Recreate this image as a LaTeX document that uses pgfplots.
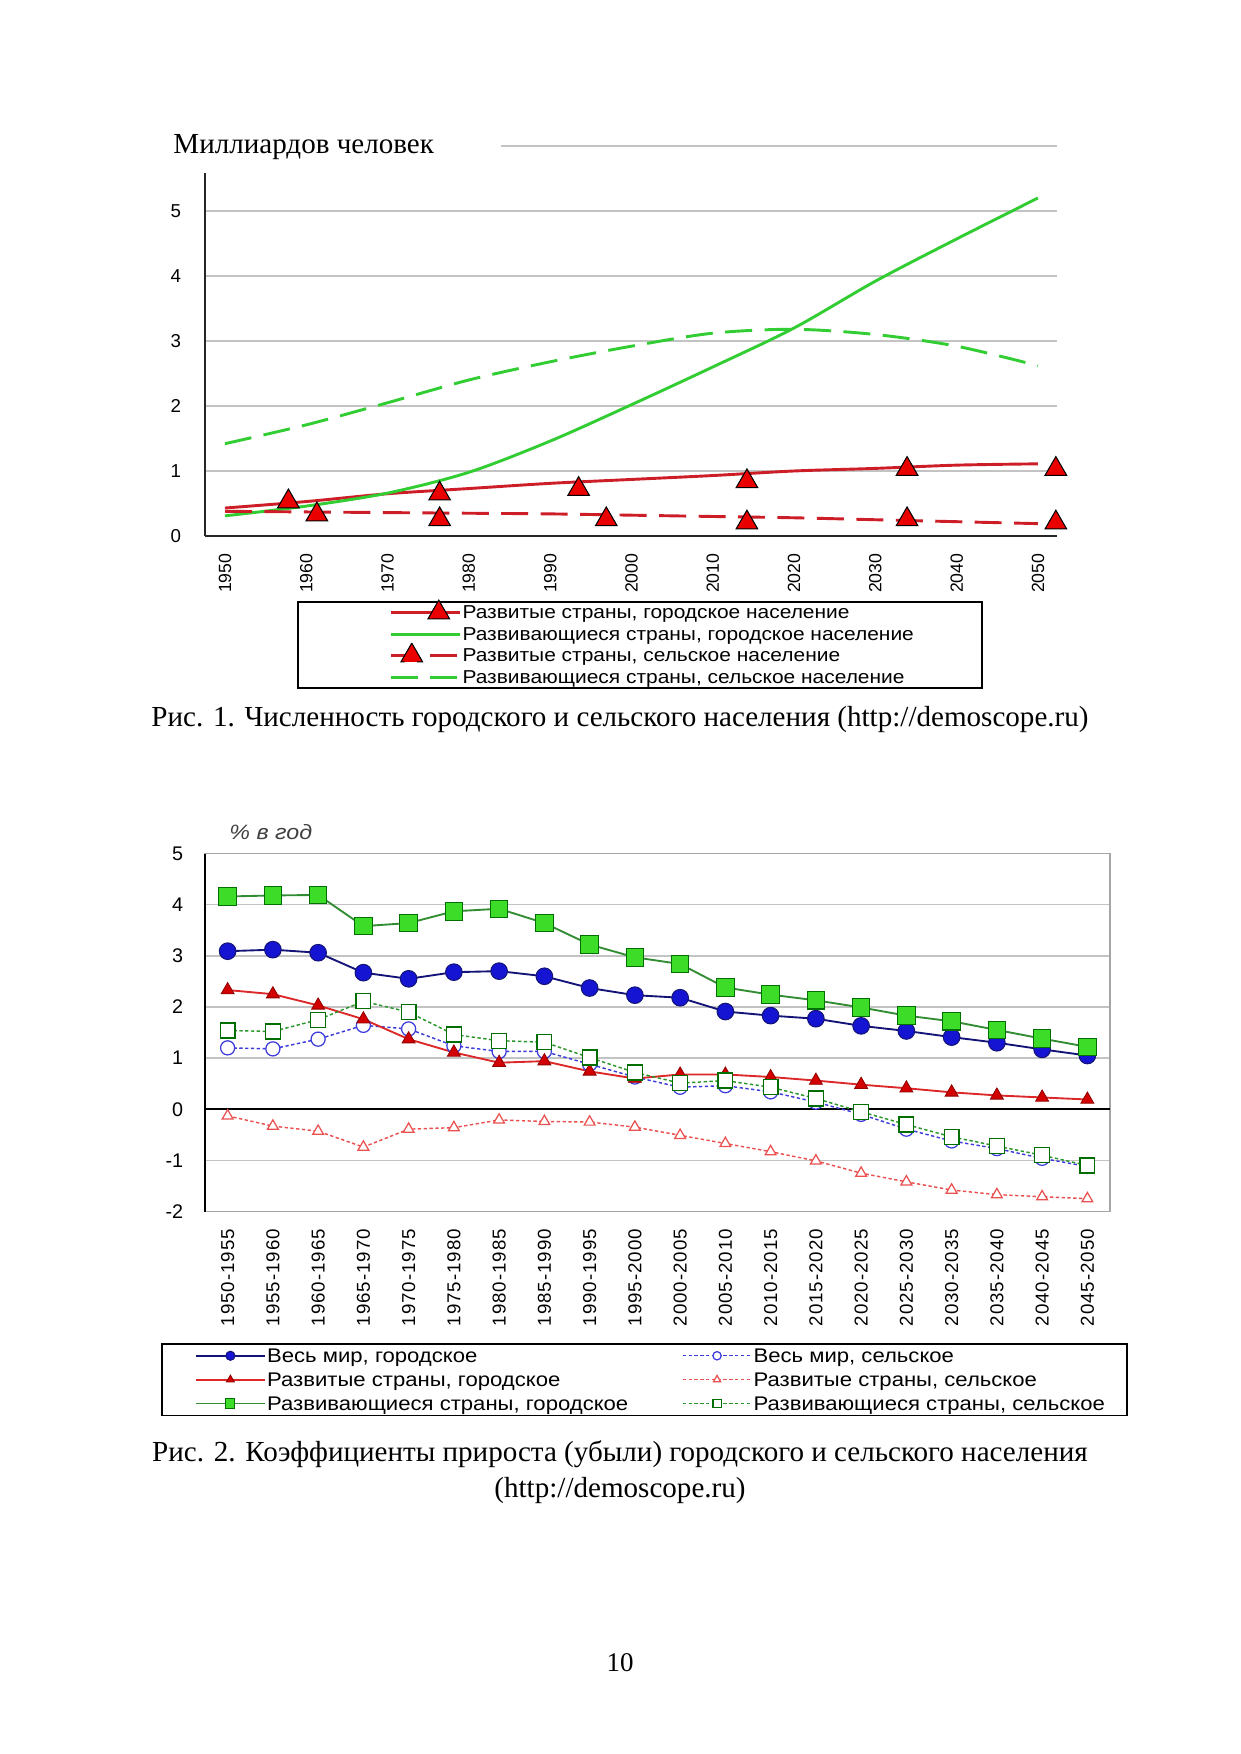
\documentclass[border=0pt]{standalone}
\usepackage{fontspec}
\setmainfont{Liberation Serif}
\setsansfont{Liberation Sans}
\newfontfamily\legfont[FakeStretch=1.12]{Liberation Sans}
\newfontfamily\tickfont[LetterSpace=5]{Liberation Sans}
\usepackage{pgfplots}
\usepackage{pgfplotstable}
\pgfplotsset{compat=1.18}

\definecolor{gridgray}{RGB}{195,195,195}
\definecolor{urbred}{RGB}{205,30,40}
\definecolor{urbgreen}{RGB}{50,205,50}
\definecolor{trired}{RGB}{235,0,0}
\definecolor{navyline}{RGB}{20,20,120}
\definecolor{bluemk}{RGB}{20,20,210}
\definecolor{redmk}{RGB}{210,0,0}
\definecolor{redln}{RGB}{220,40,40}
\definecolor{greenmk}{RGB}{60,220,40}
\definecolor{greenln}{RGB}{50,140,50}
\definecolor{darkgreen}{RGB}{0,110,0}
\definecolor{ruralblue}{RGB}{60,60,220}
\definecolor{ruralred}{RGB}{235,80,80}
\definecolor{ruralgreen}{RGB}{40,150,40}

% growth rates, % per year; i = 5-year period 1950-1955 ... 2045-2050
\pgfplotstableread{
i  wu    wr     du    dr     gu    gr
0  3.09  1.20   2.33  -0.13  4.16  1.54
1  3.12  1.18   2.25  -0.33  4.18  1.52
2  3.06  1.37   2.03  -0.43  4.19  1.75
3  2.67  1.64   1.76  -0.74  3.58  2.11
4  2.55  1.57   1.37  -0.39  3.64  1.90
5  2.68  1.24   1.11  -0.36  3.87  1.46
6  2.70  1.13   0.91  -0.21  3.92  1.34
7  2.60  1.13   0.94  -0.24  3.64  1.31
8  2.37  0.88   0.74  -0.25  3.22  1.01
9  2.23  0.63   0.60  -0.35  2.97  0.72
10 2.18  0.43   0.68  -0.51  2.84  0.51
11 1.91  0.46   0.68  -0.67  2.38  0.56
12 1.83  0.34   0.63  -0.83  2.24  0.43
13 1.77  0.14   0.56  -1.01  2.13  0.21
14 1.63  -0.10  0.48  -1.25  1.99  -0.05
15 1.53  -0.39  0.41  -1.42  1.83  -0.30
16 1.41  -0.62  0.33  -1.58  1.72  -0.54
17 1.30  -0.77  0.27  -1.67  1.55  -0.72
18 1.17  -0.96  0.23  -1.71  1.38  -0.90
19 1.05  -1.12  0.19  -1.75  1.22  -1.10
}\rates

\pgfplotsset{
  leg2/.style={legend image code/.code={%
    \draw[##1, mark repeat=2, mark phase=2, mark size=#1]
      plot coordinates {(0pt,0pt) (16.5pt,0pt) (33pt,0pt)};}},
}

\begin{document}
\begin{tikzpicture}
\begin{scope}[x=0.48146pt, y=0.48146pt]
\fill[white] (0,0) rectangle (1241,1754);
\end{scope}

% ---------- Fig. 1 ----------
\begin{axis}[
  at={(98.70pt,586.42pt)}, anchor=south west,
  scale only axis, width=410.2pt, height=187.77pt,
  xmin=1947.54, xmax=2052.34, ymin=0, ymax=6,
  axis lines*=left, axis line style={-},
  y axis line style={draw=none},
  x axis line style={black!85, line width=1.3pt},
  xtick={1950,1960,...,2050}, ytick={0,1,...,5},
  major tick length=0pt,
  ymajorgrids, grid style={gridgray, line width=0.7pt},
  /pgf/number format/assume math mode=true,
  /pgf/number format/1000 sep={},
  xticklabel style={rotate=90, anchor=east, font=\sffamily\fontsize{8.5}{10}\selectfont},
  xticklabel shift=5pt,
  yticklabel style={font=\sffamily\fontsize{9}{10}\selectfont},
  yticklabel shift=8pt,
  clip=false,
  legend style={at={(0.5106,-0.1667)}, anchor=north, draw=black, line width=0.8pt,
    inner xsep=32pt, inner ysep=0pt, row sep=0pt,
    font=\legfont\fontsize{9}{10}\selectfont,
    nodes={inner sep=0.75pt, text height=7.5pt, text depth=1.35pt}},
  legend cell align=left,
]
\draw[black!85, line width=1pt] (axis cs:1947.54,0) -- (axis cs:1947.54,5.59);
\draw[gridgray, line width=0.7pt] (axis cs:1983.9,6) -- (axis cs:2052.34,6);

\addplot[urbred, line width=1.4pt, smooth,
  legend image code/.code={
    \path (-12pt,0pt);
    \draw[urbred, line width=1.4pt] (0pt,0pt) -- (33pt,0pt);
    \draw[overlay] plot[mark=triangle*, mark size=6pt,
      mark options={fill=trired, draw=black, line width=0.5pt}] coordinates {(23pt,0pt)};}]
  coordinates {(1950,0.43) (1960,0.53) (1970,0.65) (1980,0.73) (1990,0.81) (2000,0.87)
               (2010,0.93) (2020,1.00) (2030,1.04) (2040,1.09) (2050,1.11)};
\addlegendentry{Развитые страны, городское население}

\addplot[urbgreen, line width=1.4pt, smooth,
  legend image code/.code={\path (-12pt,0pt);
    \draw[urbgreen, line width=1.4pt] (0pt,0pt) -- (33pt,0pt);}]
  coordinates {(1950,0.31) (1960,0.46) (1970,0.66) (1980,0.98) (1990,1.46) (2000,2.02)
               (2010,2.60) (2020,3.20) (2030,3.92) (2040,4.57) (2050,5.20)};
\addlegendentry{Развивающиеся страны, городское население}

\addplot[urbred, line width=1.4pt, smooth, dash pattern=on 13pt off 6pt,
  legend image code/.code={
    \path (-12pt,0pt);
    \draw[urbred, line width=1.4pt, dash pattern=on 13pt off 6pt] (0pt,0pt) -- (33pt,0pt);
    \draw[overlay] plot[mark=triangle*, mark size=6pt,
      mark options={fill=trired, draw=black, line width=0.5pt}] coordinates {(10pt,0pt)};}]
  coordinates {(1950,0.38) (1960,0.37) (1970,0.36) (1980,0.35) (1990,0.34) (2000,0.32)
               (2010,0.30) (2020,0.28) (2030,0.25) (2040,0.22) (2050,0.19)};
\addlegendentry{Развитые страны, сельское население}

\addplot[urbgreen, line width=1.4pt, smooth, dash pattern=on 13pt off 6pt,
  legend image code/.code={\path (-12pt,0pt);
    \draw[urbgreen, line width=1.4pt, dash pattern=on 13pt off 6pt] (0pt,0pt) -- (33pt,0pt);}]
  coordinates {(1950,1.42) (1960,1.71) (1970,2.05) (1980,2.40) (1990,2.68) (2000,2.92)
               (2010,3.12) (2020,3.18) (2030,3.10) (2040,2.92) (2050,2.62)};
\addlegendentry{Развивающиеся страны, сельское население}

\addplot[only marks, forget plot, mark=triangle*, mark size=6pt,
  mark options={fill=trired, draw=black, line width=0.5pt}]
  coordinates {(1957.8,0.53) (1976.4,0.65) (1993.5,0.72) (2014.2,0.84) (2033.9,1.03) (2052.2,1.03)};
\addplot[only marks, forget plot, mark=triangle*, mark size=6pt,
  mark options={fill=trired, draw=black, line width=0.5pt}]
  coordinates {(1961.3,0.33) (1976.4,0.255) (1996.9,0.255) (2014.2,0.205) (2033.9,0.255) (2052.2,0.205)};
\end{axis}

% ---------- Fig. 2 ----------
\begin{axis}[
  at={(98.70pt,261.19pt)}, anchor=south west,
  scale only axis, width=435.72pt, height=172.36pt,
  xmin=-0.5, xmax=19.5, ymin=-2, ymax=5,
  axis line style={gray!70, line width=0.8pt},
  xtick={0,...,19},
  xticklabels={1950-1955,1955-1960,1960-1965,1965-1970,1970-1975,1975-1980,1980-1985,
    1985-1990,1990-1995,1995-2000,2000-2005,2005-2010,2010-2015,2015-2020,2020-2025,
    2025-2030,2030-2035,2035-2040,2040-2045,2045-2050},
  ytick={-2,-1,...,5},
  major tick length=0pt,
  ymajorgrids, grid style={gridgray, line width=0.7pt},
  /pgf/number format/assume math mode=true,
  xticklabel style={rotate=90, anchor=east, font=\tickfont\fontsize{9}{10}\selectfont},
  xticklabel shift=5pt,
  yticklabel style={font=\sffamily\fontsize{9.5}{11}\selectfont},
  yticklabel shift=7pt,
  clip=false,
  legend columns=2,
  legend style={at={(0.4856,-0.3673)}, anchor=north, draw=black, line width=0.8pt,
    inner xsep=16pt, inner ysep=0pt, row sep=0pt,
    font=\legfont\fontsize{9.5}{11}\selectfont,
    nodes={inner sep=0.75pt, text height=8.2pt, text depth=1.8pt}},
  legend cell align=left,
]
\draw[black, line width=1pt] (axis cs:-0.5,0) -- (axis cs:19.5,0);
\draw[black, line width=1pt] (axis cs:-0.5,-2) -- (axis cs:-0.5,5);

\addplot[navyline, line width=0.9pt, mark=*, mark size=4pt,
  mark options={fill=bluemk, draw=navyline, line width=0.5pt}, leg2=2.2pt]
  table[x=i, y=wu] {\rates};
\addlegendentry{\makebox[199pt][l]{Весь мир, городское}}

\addplot[ruralblue, line width=0.7pt, dash pattern=on 1.6pt off 1.2pt, mark=*, mark size=3.4pt,
  mark options={solid, fill=white, draw=ruralblue, line width=0.6pt}, leg2=2pt]
  table[x=i, y=wr] {\rates};
\addlegendentry{\makebox[163pt][l]{Весь мир, сельское}}

\addplot[redln, line width=0.9pt, mark=triangle*, mark size=3.6pt,
  mark options={fill=redmk, draw=redmk!70!black, line width=0.4pt}, leg2=2.2pt]
  table[x=i, y=du] {\rates};
\addlegendentry{\makebox[199pt][l]{Развитые страны, городское}}

\addplot[ruralred, line width=0.7pt, dash pattern=on 1.6pt off 1.2pt, mark=triangle*, mark size=3pt,
  mark options={solid, fill=white, draw=ruralred, line width=0.6pt}, leg2=2pt]
  table[x=i, y=dr] {\rates};
\addlegendentry{\makebox[163pt][l]{Развитые страны, сельское}}

\addplot[greenln, line width=0.9pt, mark=square*, mark size=4.2pt,
  mark options={fill=greenmk, draw=darkgreen, line width=0.5pt}, leg2=2.2pt]
  table[x=i, y=gu] {\rates};
\addlegendentry{\makebox[199pt][l]{Развивающиеся страны, городское}}

\addplot[ruralgreen, line width=0.7pt, dash pattern=on 1.6pt off 1.2pt, mark=square*, mark size=3.6pt,
  mark options={solid, fill=white, draw=darkgreen, line width=0.6pt}, leg2=2pt]
  table[x=i, y=gr] {\rates};
\addlegendentry{\makebox[163pt][l]{Развивающиеся страны, сельское}}
\end{axis}

% ---------- text on the page ----------
\begin{scope}[x=0.48146pt, y=0.48146pt]
\node[anchor=base west, inner sep=0pt, font=\fontsize{14}{16}\selectfont] at (173,1600) {Миллиардов человек};
\node[anchor=base, inner sep=0pt, font=\fontsize{14}{16}\selectfont] at (620,1027)
  {Рис. 1. Численность городского и сельского населения (http://demoscope.ru)};
\node[anchor=base west, inner sep=0pt, text=black!75, font=\legfont\itshape\fontsize{10}{12}\selectfont] at (229,914) {\% в год};
\node[anchor=base, inner sep=0pt, font=\fontsize{14}{16}\selectfont] at (620,292)
  {Рис. 2. Коэффициенты прироста (убыли) городского и сельского населения};
\node[anchor=base, inner sep=0pt, font=\fontsize{14}{16}\selectfont] at (620,256) {(http://demoscope.ru)};
\node[anchor=base, inner sep=0pt, font=\fontsize{13}{15}\selectfont] at (620,83) {10};
\end{scope}
\end{tikzpicture}
\end{document}
